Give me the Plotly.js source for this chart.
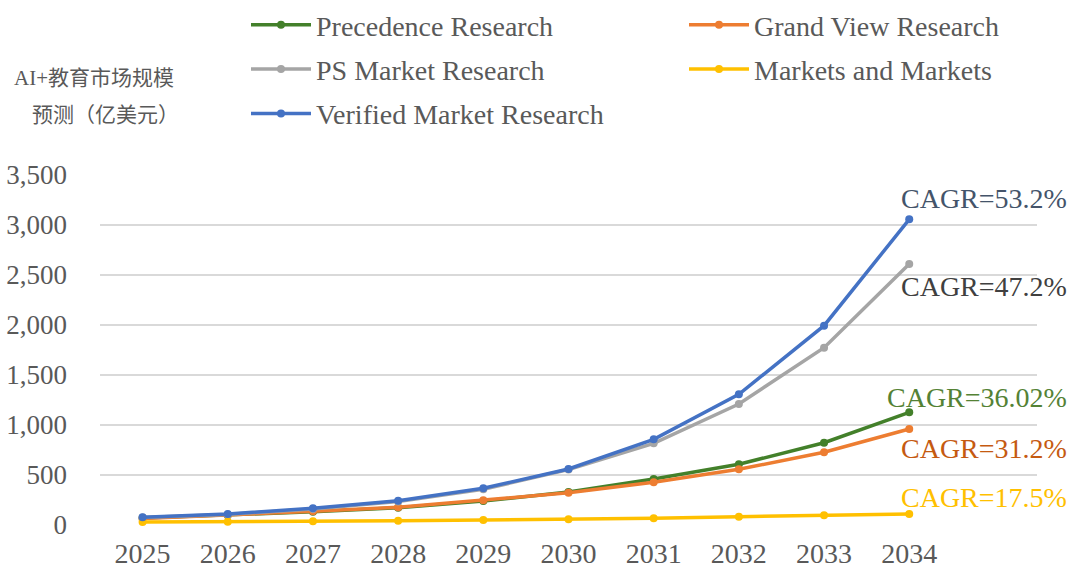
<!DOCTYPE html>
<html>
<head>
<meta charset="utf-8">
<script src="https://cdn.plot.ly/plotly-3.0.1.min.js"></script>
<style>html,body{margin:0;padding:0;background:#fff;}#chart{width:1080px;height:579px;}</style>
</head>
<body>
<div id="chart"></div>
<script>
const years = ["2025","2026","2027","2028","2029","2030","2031","2032","2033","2034"];
const precedence = [70, 97, 132, 172, 240, 330, 460, 607, 823, 1127];
const grandView = [66, 100, 137, 177, 247, 322, 427, 557, 727, 960];
const psMarket = [74, 106, 160, 236, 357, 555, 817, 1210, 1773, 2610];
const marketsAndMarkets = [30, 33, 38, 43, 51, 58, 67, 83, 97, 110];
const verified = [77, 110, 167, 243, 367, 560, 857, 1307, 1993, 3057];
const seriesNames = ["Precedence Research","Grand View Research","PS Market Research","Markets and Markets","Verified Market Research"];
const cagrLabels = ["CAGR=53.2%","CAGR=47.2%","CAGR=36.02%","CAGR=31.2%","CAGR=17.5%"];
const yTickVals = [0,500,1000,1500,2000,2500,3000,3500];
const yTickText = ["0","500","1,000","1,500","2,000","2,500","3,000","3,500"];

const serif = "'Liberation Serif', 'Times New Roman', serif";
const cjk = "'Liberation Serif', 'Noto Sans CJK SC', serif";
const colors = {prec:"#43802A", gv:"#ED7D31", ps:"#A5A5A5", mm:"#FFC000", vm:"#4472C4"};

function tr(name, y, color, legend){
  return {type:"scatter", mode:"lines+markers", name:name, x:years, y:y, legendgroup:name,
    line:{color:color, width:3.5}, marker:{color:color, size:8}, legend:legend, cliponaxis:false};
}
const data = [
  tr(seriesNames[0], precedence, colors.prec, "legend"),
  tr(seriesNames[1], grandView, colors.gv, "legend2"),
  tr(seriesNames[2], psMarket, colors.ps, "legend"),
  tr(seriesNames[3], marketsAndMarkets, colors.mm, "legend2"),
  tr(seriesNames[4], verified, colors.vm, "legend")
];

const legendFont = {family:serif, size:28, color:"#595959"};
// paper coordinates: x -> (px-100)/937, y -> (525-px)/350
const px = v => (v-100)/937;
const py = v => (525-v)/350;
const ann = (text, ypx, color) => ({text:text, x:px(1069), y:py(ypx), xref:"paper", yref:"paper", xanchor:"right", yanchor:"middle",
  showarrow:false, font:{family:serif, size:28, color:color}});

const layout = {
  width:1080, height:579,
  margin:{l:100, r:43, t:175, b:54, autoexpand:false},
  paper_bgcolor:"#fff", plot_bgcolor:"#fff",
  showlegend:true,
  legend:{x:px(246), y:py(0), xanchor:"left", yanchor:"top", orientation:"v", font:legendFont,
    traceorder:"grouped", bgcolor:"rgba(0,0,0,0)", itemwidth:60, tracegroupgap:5},
  legend2:{x:px(684), y:py(0), xanchor:"left", yanchor:"top", orientation:"v", font:legendFont,
    traceorder:"grouped", bgcolor:"rgba(0,0,0,0)", itemwidth:60, tracegroupgap:5},
  xaxis:{type:"category", range:[-0.5, 10.5], showgrid:false, zeroline:false, showline:false,
    ticks:"", ticklabelstandoff:9, tickfont:{family:serif, size:28, color:"#595959"}, fixedrange:true},
  yaxis:{range:[0,3500], tickvals:yTickVals, ticktext:yTickText, showgrid:true, gridcolor:"#D9D9D9", gridwidth:1.5,
    zeroline:false, showline:false, ticks:"", ticklen:0, ticklabelstandoff:32, tickfont:{family:serif, size:27, color:"#595959"},
    automargin:false, fixedrange:true},
  annotations:[
    ann(cagrLabels[0], 198, "#44546A"),
    ann(cagrLabels[1], 286, "#404040"),
    ann(cagrLabels[2], 397, "#548235"),
    ann(cagrLabels[3], 448, "#C55A11"),
    ann(cagrLabels[4], 497, "#FFC000"),
    {text:"AI+教育市场规模", xref:"paper", yref:"paper", x:px(94), y:py(78), xanchor:"center", yanchor:"middle",
      showarrow:false, font:{family:cjk, size:21, color:"#595959"}},
    {text:"预测（亿美元）", xref:"paper", yref:"paper", x:px(105), y:py(115), xanchor:"center", yanchor:"middle",
      showarrow:false, font:{family:cjk, size:21, color:"#595959"}}
  ]
};
Plotly.newPlot("chart", data, layout, {displayModeBar:false, staticPlot:true});
</script>
</body>
</html>
